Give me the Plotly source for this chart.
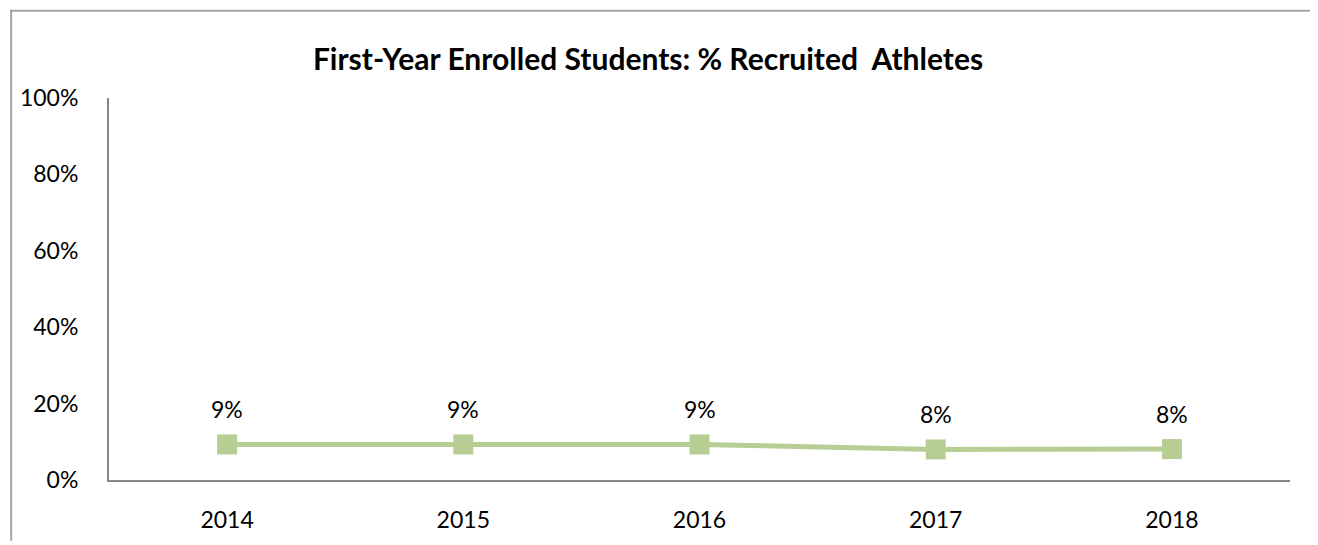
import plotly.graph_objects as go

# data
years = ["2014", "2015", "2016", "2017", "2018"]
pct_athletes = [9.3, 9.3, 9.3, 8.0, 8.1]
pct_labels = ["9%", "9%", "9%", "8%", "8%"]
y_ticks = [0, 20, 40, 60, 80, 100]

# the page body adds an 8px margin, so the figure is a bit smaller than the window
W, H = 1310, 537
ml, mr, mt, mb = 99, 28, 90, 57
pw, ph = W - ml - mr, H - mt - mb

green = "#B6CE94"
axis_gray = "#868686"
font_name = "Lato, Open Sans, sans-serif"

fig = go.Figure()
fig.add_trace(go.Scatter(
    x=years, y=pct_athletes, mode="lines+markers",
    line=dict(color=green, width=5),
    marker=dict(symbol="square", size=20, color=green),
    hoverinfo="x+y", showlegend=False,
))

# data labels above each point (category index on the x axis)
for i, (v, lab) in enumerate(zip(pct_athletes, pct_labels)):
    fig.add_annotation(x=i, y=v, text=lab, showarrow=False, yshift=35,
                       font=dict(size=23, color="#000000", family=font_name))

# outer chart frame (left and top edges visible)
px = lambda x: (x - ml) / pw
py = lambda y: (H - mb - y) / ph
fig.add_shape(type="line", xref="paper", yref="paper",
              x0=px(0), x1=px(W + 5), y0=py(1), y1=py(1),
              line=dict(color="#A6A6A6", width=2))
fig.add_shape(type="line", xref="paper", yref="paper",
              x0=px(1), x1=px(1), y0=py(0), y1=py(H + 5),
              line=dict(color="#A6A6A6", width=2))

fig.update_layout(
    width=W, height=H,
    margin=dict(l=ml, r=mr, t=mt, b=mb),
    paper_bgcolor="white", plot_bgcolor="white",
    title=dict(text="<b>First-Year Enrolled Students: % Recruited  Athletes</b>",
               x=640 / W, xanchor="center", y=1 - 51 / H, yanchor="middle",
               font=dict(size=30, color="#000000", family=font_name)),
    font=dict(family=font_name, size=23, color="#000000"),
)
fig.update_xaxes(
    type="category", range=[-0.5, 4.5],
    showline=True, linecolor=axis_gray, linewidth=2,
    showgrid=False, zeroline=False, ticks="", ticklabelstandoff=18,
    tickfont=dict(size=23),
)
fig.update_yaxes(
    range=[0, 100], tickvals=y_ticks, ticktext=[f"{t}%" for t in y_ticks],
    showline=True, linecolor=axis_gray, linewidth=2,
    showgrid=False, zeroline=False, ticks="", ticklabelstandoff=24,
    tickfont=dict(size=23),
)

fig.write_html("out.html")
